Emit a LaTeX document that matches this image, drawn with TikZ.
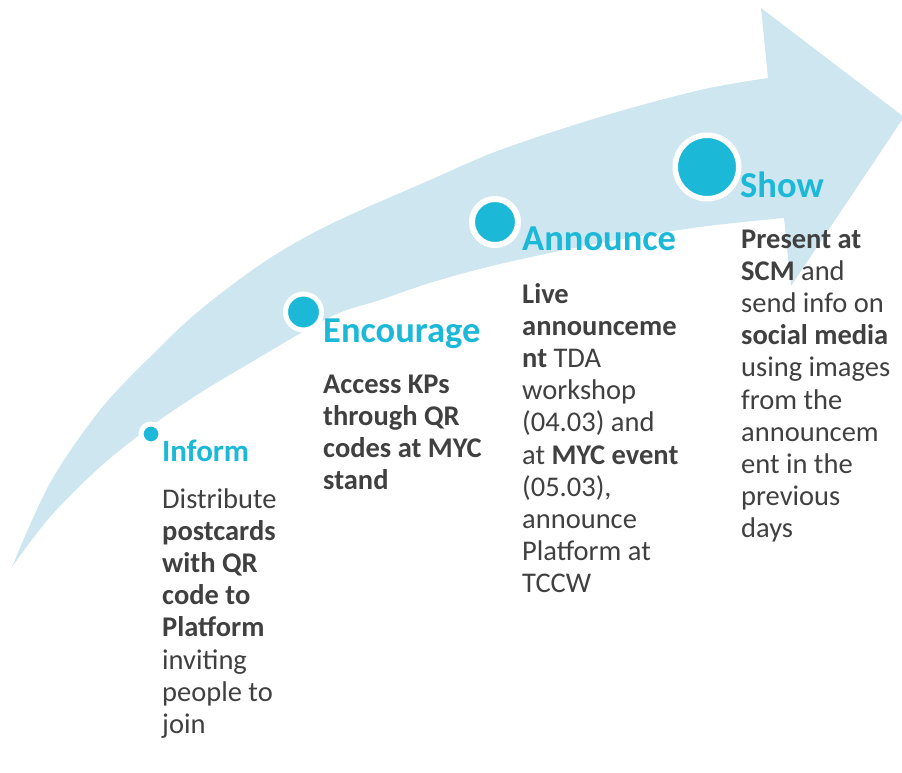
\documentclass[tikz,border=0pt]{standalone}
\usepackage{fontspec}
\setmainfont{Carlito}
\definecolor{arrowblue}{RGB}{205,230,240}
\definecolor{dotblue}{RGB}{28,184,216}
\definecolor{txtgray}{RGB}{64,64,64}
\newcommand{\blocktext}[1]{\vtop{\hsize=260pt\parindent=0pt\lineskiplimit=-100pt\fontsize{28.5}{32.2}\selectfont\raggedright #1\par}}
\tikzset{
  stagedot/.style={circle, fill=dotblue, draw=white, inner sep=0pt},
  stagetitle/.style={anchor=base west, inner sep=0pt, text=dotblue, font=\bfseries\fontsize{36.5}{40}\selectfont},
  stagebody/.style={anchor=base west, inner sep=0pt, text=txtgray},
}
\begin{document}
\begin{tikzpicture}[x=1pt,y=-1pt]
\useasboundingbox (0,0) rectangle (902,773);
% big curved arrow
\fill[arrowblue] (12,567)
  -- plot[smooth, tension=0.55] coordinates {(12,567) (50,483) (100,410) (150,357) (200,310) (267,260) (333,223) (430,180) (500,150) (600,117) (700,90) (768,78)}
  -- (761,8) -- (904,117) -- (791,286) -- (784,218)
  -- plot[smooth, tension=0.55] coordinates {(784,218) (700,227) (600,243) (500,264) (433,282) (380,300) (330,317) (250,363) (200,393) (150,427) (100,467) (50,517) (12,567)}
  -- cycle;
% stage dots
\node[stagedot, line width=5pt, minimum size=20pt] (dinform) at (151,434) {};
\node[stagedot, line width=5pt, minimum size=36pt] (dencourage) at (303.5,312) {};
\node[stagedot, line width=6pt, minimum size=46pt] (dannounce) at (495,222) {};
\node[stagedot, line width=5.5pt, minimum size=63.5pt] (dshow) at (707,167) {};
% titles
\node[stagetitle, font=\bfseries\fontsize{31}{36}\selectfont] (tinform) at (162,461) {Inform};
\node[stagetitle] (tencourage) at (323,342) {Encourage};
\node[stagetitle] (tannounce) at (522,250) {Announce};
\node[stagetitle] (tshow) at (740,197) {Show};
% bodies
\node[stagebody] (binform) at (162,508) {\blocktext{Distribute\\ \textbf{postcards}\\ \textbf{with QR}\\ \textbf{code to}\\ \textbf{Platform}\\ inviting\\ people to\\ join}};
\node[stagebody] (bencourage) at (323,393) {\blocktext{\textbf{Access KPs}\\ \textbf{through QR}\\ \textbf{codes at MYC}\\ \textbf{stand}}};
\node[stagebody] (bannounce) at (522,303) {\blocktext{\textbf{Live}\\ \textbf{announceme}\\ \textbf{nt} TDA\\ workshop\\ (04.03) and\\ at \textbf{MYC event}\\ (05.03),\\ announce\\ Platform at\\ TCCW}};
\node[stagebody] (bshow) at (741,248) {\blocktext{\textbf{Present at}\\ \textbf{SCM} and\\ send info on\\ \textbf{social media}\\ using images\\ from the\\ announcem\\ ent in the\\ previous\\ days}};
\end{tikzpicture}
\end{document}
